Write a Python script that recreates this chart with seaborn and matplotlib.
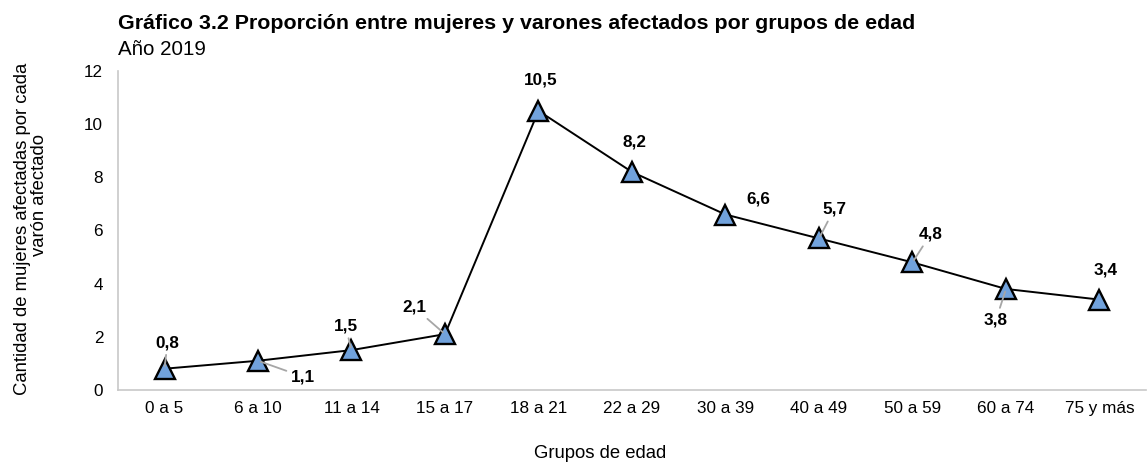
import numpy as np
import pandas as pd
import matplotlib
matplotlib.use("Agg")
import matplotlib.pyplot as plt
import seaborn as sns

# Datos del gráfico
grupos = ["0 a 5", "6 a 10", "11 a 14", "15 a 17", "18 a 21", "22 a 29",
          "30 a 39", "40 a 49", "50 a 59", "60 a 74", "75 y más"]
proporcion = [0.8, 1.1, 1.5, 2.1, 10.5, 8.2, 6.6, 5.7, 4.8, 3.8, 3.4]
etiquetas = ["0,8", "1,1", "1,5", "2,1", "10,5", "8,2", "6,6", "5,7", "4,8", "3,8", "3,4"]

# desplazamiento de etiquetas (px) y si llevan línea guía
desplazamientos = [(3, 26), (45, -16), (-6, 24), (-31, 27), (2, 31), (2, 30),
                   (33, 16), (15, 29), (18, 28), (-10, -31), (6, 30)]
con_guia = [True, True, True, True, False, False, False, True, True, True, False]


def graficar():
    sns.set_theme(style="white")
    plt.rcParams["font.family"] = ["Liberation Sans", "DejaVu Sans"]
    plt.rcParams["text.color"] = "black"
    plt.rcParams["xtick.color"] = "black"
    plt.rcParams["ytick.color"] = "black"
    plt.rcParams["axes.labelcolor"] = "black"

    df = pd.DataFrame({"pos": np.arange(len(grupos)), "valor": proporcion})

    fig = plt.figure(figsize=(11.48, 4.63), dpi=100)
    ax = fig.add_axes([0.10257, 0.1577, 0.8959, 0.689])

    sns.lineplot(data=df, x="pos", y="valor", ax=ax, color="black", linewidth=1.4,
                 marker="^", markersize=15, markerfacecolor="#71A2DC",
                 markeredgecolor="black", markeredgewidth=1.7, zorder=3)

    for i, (x, y) in enumerate(zip(df["pos"], df["valor"])):
        dx, dy = desplazamientos[i]
        props = None
        if con_guia[i]:
            props = dict(arrowstyle="-", color="#A6A6A6", lw=1.3, shrinkA=1, shrinkB=2)
        ax.annotate(etiquetas[i], xy=(x, y), xytext=(dx, dy), textcoords="offset pixels",
                    ha="center", va="center", fontsize=12.3, fontweight="bold",
                    arrowprops=props, zorder=4)

    ax.set_xlim(-0.5, len(grupos) - 0.5)
    ax.set_ylim(0, 12)
    ax.set_yticks(range(0, 13, 2))
    ax.set_xticks(df["pos"])
    ax.set_xticklabels(grupos)
    ax.set_xticks(np.arange(-0.5, len(grupos), 1), minor=True)
    ax.tick_params(axis="x", which="major", length=0, pad=8, labelsize=12.3)
    ax.tick_params(axis="x", which="minor", length=4, color="#BFBFBF", direction="out")
    ax.tick_params(axis="y", length=4, color="#BFBFBF", direction="out", labelsize=12.3, pad=6.5)

    sns.despine(ax=ax)
    for lado in ["left", "bottom"]:
        ax.spines[lado].set_color("#C8C8C8")
        ax.spines[lado].set_linewidth(1.2)

    ax.set_xlabel("Grupos de edad", fontsize=13.3, va="baseline")
    ax.xaxis.set_label_coords(0.469, -0.213)
    ax.set_ylabel("")

    # etiqueta del eje y en dos renglones
    fig.text(0.0200, 1 - 229 / 463, "Cantidad de mujeres afectadas por cada", rotation=90,
             fontsize=13.3, ha="center", va="center")
    fig.text(0.0345, 1 - 195 / 463, "varón afectado", rotation=90,
             fontsize=13.3, ha="center", va="center")

    fig.text(0.10257, 0.9374, "Gráfico 3.2 Proporción entre mujeres y varones afectados por grupos de edad",
             fontsize=15.4, fontweight="bold", ha="left", va="baseline")
    fig.text(0.10257, 0.8812, "Año 2019", fontsize=14.8, ha="left", va="baseline")

    fig.savefig("out.png", dpi=100)


if __name__ == "__main__":
    graficar()
